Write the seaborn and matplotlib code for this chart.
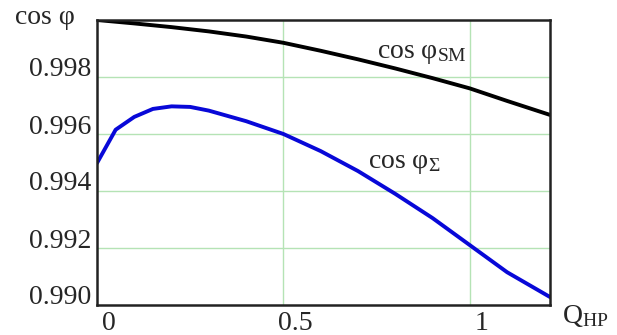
import numpy as np
import pandas as pd
import matplotlib
matplotlib.use('Agg')
import matplotlib.pyplot as plt
import matplotlib.transforms as mtransforms
import seaborn as sns

# values
q_sm = [0, 0.1, 0.2, 0.3, 0.4, 0.5, 0.6, 0.7, 0.8, 0.9, 1.0, 1.1, 1.215]
cos_sm = [1.0000, 0.99988, 0.99975, 0.99960, 0.99942, 0.99920, 0.99892,
          0.99862, 0.99830, 0.99796, 0.99760, 0.99716, 0.99667]

q_sum = [0, 0.05, 0.1, 0.15, 0.2, 0.25, 0.3, 0.4, 0.5, 0.6, 0.7, 0.8, 0.9,
         1.0, 1.1, 1.215]
cos_sum = [0.99498, 0.99615, 0.99660, 0.99688, 0.99697, 0.99695, 0.99682,
           0.99645, 0.99600, 0.99540, 0.99470, 0.99390, 0.99305, 0.99210,
           0.99115, 0.99028]

x_ticks = [0, 0.5, 1]
x_tick_labels = ['0', '0.5', '1']
y_ticks = [0.990, 0.992, 0.994, 0.996, 0.998]
y_tick_labels = ['0.990', '0.992', '0.994', '0.996', '0.998']

sns.set_style('white')
plt.rcParams['font.family'] = ['Liberation Serif', 'DejaVu Serif']
plt.rcParams['mathtext.fontset'] = 'custom'
plt.rcParams['mathtext.rm'] = 'Liberation Serif'
plt.rcParams['mathtext.it'] = 'Liberation Serif'

df_sm = pd.DataFrame({'q': q_sm, 'cos': cos_sm})
df_sum = pd.DataFrame({'q': q_sum, 'cos': cos_sum})

fig = plt.figure(figsize=(6.17, 3.35), dpi=100)
ax = fig.add_axes([97 / 617, 1 - 305 / 335, 453 / 617, 285 / 335])

grid_c = '#b5e3b5'
for v in [0.5, 1.0]:
    ax.axvline(v, color=grid_c, lw=1.0, zorder=0)
for v in [0.992, 0.994, 0.996, 0.998]:
    ax.axhline(v, color=grid_c, lw=1.0, zorder=0)

sns.lineplot(data=df_sm, x='q', y='cos', ax=ax, color='black', lw=2.8)
sns.lineplot(data=df_sum, x='q', y='cos', ax=ax, color='#0808d8', lw=2.8)

ax.set_xlim(0, 1.215)
ax.set_ylim(0.990, 1.000)
ax.set_xticks(x_ticks)
ax.set_xticklabels(x_tick_labels, fontsize=20)
ax.set_yticks(y_ticks)
ax.set_yticklabels(y_tick_labels, fontsize=20)
ax.tick_params(length=0, pad=4)
ax.set_xlabel('')
ax.set_ylabel('')

# shift tick labels like in the original
for lab in ax.get_xticklabels():
    lab.set_transform(lab.get_transform() + mtransforms.ScaledTranslation(12 / 100, 0, fig.dpi_scale_trans))
for lab in ax.get_yticklabels():
    lab.set_transform(lab.get_transform() + mtransforms.ScaledTranslation(0, 10 / 100, fig.dpi_scale_trans))

for s in ax.spines.values():
    s.set_color('#222222')
    s.set_linewidth(1.8)

ax.text(0.75, 0.99884, r'cos φ$_{\mathrm{SM}}$', fontsize=20, va='center', ha='left')
ax.text(0.727, 0.99498, r'cos φ$_{\Sigma}$', fontsize=20, va='center', ha='left')

fig.text(15 / 617, 1 - 18 / 335, 'cos φ', fontsize=20, va='center', ha='left')
fig.text(562 / 617, 1 - 316 / 335, r'Q$_{\mathrm{HP}}$', fontsize=20, va='center', ha='left')

fig.savefig('out.png', dpi=100)
